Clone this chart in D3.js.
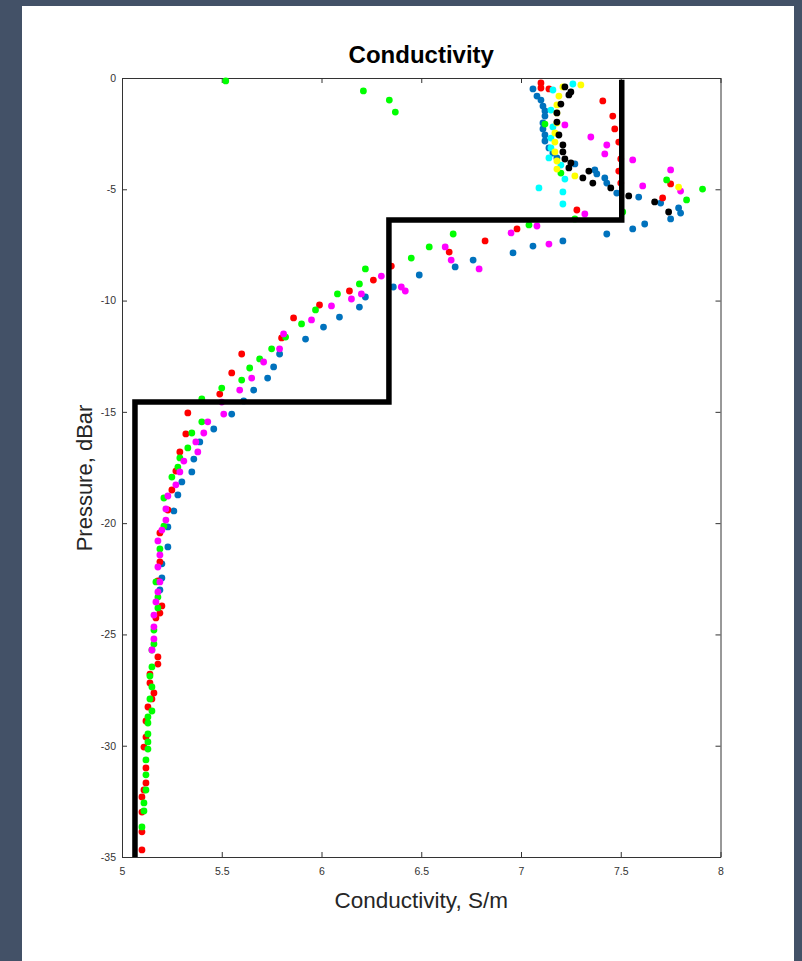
<!DOCTYPE html>
<head>
  <meta charset="utf-8">
  <script src="https://d3js.org/d3.v7.min.js"></script>
  <style>
    body { margin:0; background:#435167; }
    svg { display:block; }
    .tick text { font-family:"Liberation Sans", Arial, sans-serif; font-size:10.5px; fill:#333; }
    .axis path, .axis line { stroke:#333; }
  </style>
</head>

<body>
  <script>
    var width = 802;
    var height = 961;

    var blueCond = [7.06,7.08,7.10,7.11,7.12,7.12,7.11,7.11,7.12,7.12,7.14,7.16,7.18,7.27,7.37,7.38,7.42,7.43,7.48,7.59,7.70,7.79,7.80,7.75,7.62,7.56,7.43,7.21,7.06,6.96,6.76,6.67,6.49,6.36,6.22,6.19,6.09,6.01,5.92,5.79,5.76,5.73,5.66,5.61,5.55,5.46,5.39,5.36,5.35,5.30,5.28,5.26,5.23,5.23,5.20,5.20,5.19];
    var bluePres = [-0.49,-0.81,-0.99,-1.26,-1.48,-1.71,-2.02,-2.29,-2.56,-2.83,-3.14,-3.37,-3.59,-3.86,-4.13,-4.31,-4.49,-4.72,-5.17,-5.35,-5.62,-5.84,-6.07,-6.33,-6.56,-6.78,-7.01,-7.32,-7.55,-7.86,-8.18,-8.49,-8.85,-9.39,-9.84,-10.29,-10.74,-11.19,-11.73,-12.40,-12.98,-13.48,-14.02,-14.51,-15.10,-15.77,-16.35,-17.12,-17.70,-18.15,-18.73,-19.45,-20.17,-21.07,-21.83,-22.46,-23.00];

    var redCond = [7.10,7.10,7.14,7.41,7.46,7.47,7.49,7.50,7.49,7.50,7.75,7.71,7.28,6.98,6.82,6.64,6.35,6.26,6.14,5.99,5.86,5.80,5.60,5.55,5.49,5.33,5.32,5.29,5.27,5.25,5.23,5.19,5.19,5.18,5.20,5.19,5.17,5.18,5.18,5.14,5.14,5.16,5.15,5.13,5.12,5.12,5.11,5.12,5.12,5.11,5.10,5.10,5.10,5.10];
    var redPres = [-0.22,-0.45,-0.49,-1.03,-1.71,-2.29,-2.88,-3.64,-4.18,-4.72,-4.76,-5.39,-5.93,-6.78,-7.32,-7.82,-8.45,-9.08,-9.57,-10.20,-10.78,-11.68,-12.40,-13.25,-14.20,-15.05,-15.99,-16.80,-17.66,-18.51,-19.41,-20.44,-21.74,-22.60,-23.72,-24.04,-24.26,-26.01,-26.33,-26.78,-27.18,-27.63,-27.90,-28.26,-28.89,-29.61,-30.06,-31.00,-31.67,-31.99,-32.30,-32.98,-33.87,-34.68];

    var greenCond = [5.52,6.21,6.34,6.37,7.12,7.20,7.73,7.91,7.83,7.51,7.27,7.04,6.66,6.54,6.45,6.22,6.19,6.08,5.97,5.90,5.82,5.75,5.69,5.64,5.60,5.50,5.40,5.40,5.35,5.33,5.29,5.28,5.25,5.21,5.21,5.19,5.17,5.18,5.18,5.16,5.16,5.15,5.15,5.14,5.15,5.14,5.15,5.13,5.13,5.13,5.13,5.13,5.12,5.12,5.12,5.11,5.11,5.10];
    var greenPres = [-0.13,-0.58,-0.99,-1.53,-2.07,-4.27,-4.58,-4.99,-5.48,-6.02,-6.33,-6.60,-7.01,-7.59,-8.09,-8.58,-9.25,-9.70,-10.42,-11.05,-11.64,-12.17,-12.62,-13.03,-13.57,-13.93,-14.42,-15.45,-15.95,-16.62,-17.07,-17.48,-17.93,-18.87,-20.13,-21.16,-22.64,-23.32,-23.81,-24.80,-25.43,-25.70,-26.46,-26.87,-27.36,-27.90,-28.44,-28.71,-28.98,-29.47,-29.83,-30.15,-30.64,-31.31,-31.99,-32.57,-32.93,-33.65];

    var magentaCond = [7.22,7.35,7.43,7.42,7.56,7.75,7.61,7.80,7.32,7.08,6.95,7.14,6.62,6.65,6.79,6.30,6.40,6.42,6.20,6.15,6.05,5.95,5.81,5.79,5.71,5.65,5.59,5.50,5.51,5.43,5.41,5.37,5.38,5.31,5.29,5.27,5.23,5.22,5.22,5.20,5.18,5.19,5.18,5.19,5.18,5.17,5.16,5.16,5.16,5.15];
    var magentaPres = [-2.11,-2.65,-3.01,-3.41,-3.68,-4.13,-4.85,-5.08,-6.11,-6.65,-6.96,-7.46,-7.59,-8.18,-8.58,-8.90,-9.39,-9.57,-9.70,-9.93,-10.24,-10.87,-11.50,-12.17,-12.76,-13.48,-14.02,-14.56,-15.10,-15.45,-15.95,-16.35,-16.80,-17.21,-17.70,-18.28,-18.78,-19.36,-19.86,-20.31,-20.80,-21.43,-21.97,-22.64,-23.09,-23.54,-24.13,-24.66,-25.20,-25.70];

    var cyanCond = [7.26,7.16,7.15,7.16,7.15,7.15,7.14,7.20,7.22,7.09,7.21,7.21];
    var cyanPres = [-0.27,-0.54,-1.44,-2.20,-2.70,-3.14,-3.59,-3.91,-4.54,-4.94,-5.12,-5.66];

    var yellowCond = [7.30,7.21,7.19,7.18,7.18,7.18,7.17,7.17,7.17,7.18,7.18,7.27,7.79];
    var yellowPres = [-0.31,-0.40,-0.81,-1.21,-1.57,-2.02,-2.47,-2.88,-3.32,-3.73,-4.09,-4.40,-4.90];

    var blackCond = [7.22,7.25,7.24,7.20,7.18,7.18,7.19,7.21,7.21,7.22,7.25,7.24,7.34,7.31,7.36,7.45,7.54,7.67,7.74];
    var blackPres = [-0.40,-0.63,-0.76,-1.17,-1.57,-1.98,-2.56,-3.01,-3.32,-3.64,-3.82,-4.04,-4.18,-4.49,-4.72,-4.94,-5.30,-5.57,-6.02];

    // layer boundaries (step profile)
    var stepCond = [5.065,5.065,6.338,6.338,7.505,7.505];
    var stepPres = [-35,-14.56,-14.56,-6.38,-6.38,-0.08];

    var xTicks = [5,5.5,6,6.5,7,7.5,8];
    var yTicks = [-35,-30,-25,-20,-15,-10,-5,0];

    var series = [
      { cond: blueCond, pres: bluePres, color: '#0072bd' },
      { cond: redCond, pres: redPres, color: '#ff0000' },
      { cond: greenCond, pres: greenPres, color: '#00ff00' },
      { cond: magentaCond, pres: magentaPres, color: '#ff00ff' },
      { cond: cyanCond, pres: cyanPres, color: '#00ffff' },
      { cond: yellowCond, pres: yellowPres, color: '#ffff00' },
      { cond: blackCond, pres: blackPres, color: '#000000' }
    ];

    var svg = d3.select("body").append("svg")
      .attr("width", width)
      .attr("height", height)

    // white figure panel
    svg.append('rect')
      .attr('x', 22).attr('y', 6)
      .attr('width', 772).attr('height', height - 6)
      .attr('fill', 'white')

    var plot = { left: 122, right: 720.5, top: 78, bottom: 857 }

    var x = d3.scaleLinear().domain([5, 8]).range([plot.left, plot.right])
    var y = d3.scaleLinear().domain([-35, 0]).range([plot.bottom, plot.top])

    var fmt = function(d) { return String(d) }   // plain hyphen minus, like the original

    // axes, MATLAB style: inward ticks on all four sides
    svg.append('g').attr('class', 'axis')
      .attr('transform', 'translate(0,' + plot.bottom + ')')
      .call(d3.axisBottom(x).tickValues(xTicks).tickSizeInner(-5).tickSizeOuter(0).tickPadding(11)
        .tickFormat(fmt))

    svg.append('g').attr('class', 'axis')
      .attr('transform', 'translate(' + plot.left + ',0)')
      .call(d3.axisLeft(y).tickValues(yTicks).tickSizeInner(-5).tickSizeOuter(0).tickPadding(6)
        .tickFormat(fmt))

    svg.append('g').attr('class', 'axis')
      .attr('transform', 'translate(0,' + plot.top + ')')
      .call(d3.axisTop(x).tickValues(xTicks).tickSizeInner(-5).tickSizeOuter(0).tickFormat(''))

    svg.append('g').attr('class', 'axis')
      .attr('transform', 'translate(' + plot.right + ',0)')
      .call(d3.axisRight(y).tickValues(yTicks).tickSizeInner(-5).tickSizeOuter(0).tickFormat(''))

    // dots
    var dotsG = svg.append('g').attr('class', 'dotsGroup')
    series.forEach(function(s) {
      dotsG.selectAll(null)
        .data(d3.range(s.cond.length))
        .enter()
        .append('circle')
        .attr('r', 3.4)
        .attr('cx', function(i) { return x(s.cond[i]) })
        .attr('cy', function(i) { return y(s.pres[i]) })
        .attr('fill', s.color)
    })

    // step line on top
    var line = d3.line()
      .x(function(i) { return x(stepCond[i]) })
      .y(function(i) { return y(stepPres[i]) })

    svg.append('path')
      .attr('d', line(d3.range(stepCond.length)))
      .attr('fill', 'none')
      .attr('stroke', 'black')
      .attr('stroke-width', 5.5)
      .attr('stroke-linejoin', 'miter')

    // labels
    svg.append('text')
      .attr('x', (plot.left + plot.right) / 2)
      .attr('y', 63)
      .attr('text-anchor', 'middle')
      .style('font-family', '"Liberation Sans", Arial, sans-serif')
      .style('font-weight', 'bold')
      .style('font-size', '24px')
      .style('fill', '#000')
      .text('Conductivity')

    svg.append('text')
      .attr('x', (plot.left + plot.right) / 2)
      .attr('y', 908)
      .attr('text-anchor', 'middle')
      .style('font-family', '"Liberation Sans", Arial, sans-serif')
      .style('font-size', '22.5px')
      .style('fill', '#262626')
      .text('Conductivity, S/m')

    svg.append('text')
      .attr('transform', 'translate(92,478) rotate(-90)')
      .attr('text-anchor', 'middle')
      .style('font-family', '"Liberation Sans", Arial, sans-serif')
      .style('font-size', '22px')
      .style('fill', '#262626')
      .text('Pressure, dBar')

  </script>
</body>
